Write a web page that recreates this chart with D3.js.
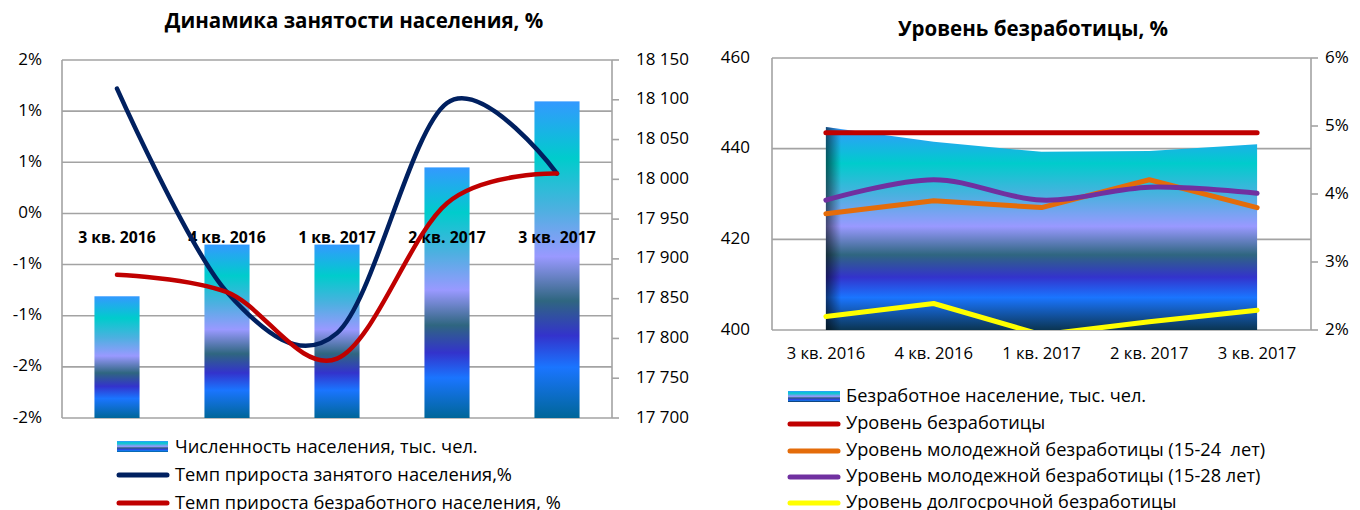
<!DOCTYPE html>
<html>
<head>
<meta charset="utf-8">
<script src="https://cdn.jsdelivr.net/npm/d3@7/dist/d3.min.js"></script>
<style>
  body { margin: 0; background: #fff; }
  svg { display: block; font-family: "Open Sans", "DejaVu Sans", sans-serif; }
</style>
</head>
<body>
<div id="chart"></div>
<script>
// data
const categories = ["3 кв. 2016", "4 кв. 2016", "1 кв. 2017", "2 кв. 2017", "3 кв. 2017"];

// left chart - "Динамика занятости населения, %"
const population = [17853, 17918, 17918, 18015, 18098];       // тыс. чел., right axis
const employedGrowth = [1.22, -0.77, -1.17, 1.08, 0.39];      // %, left axis
const unemployedGrowth = [-0.60, -0.77, -1.42, 0.10, 0.39];   // %, left axis
const leftTicks = [1.5, 1, 0.5, 0, -0.5, -1, -1.5, -2];
const leftTickLabels = ["2%", "1%", "1%", "0%", "-1%", "-1%", "-2%", "-2%"];
const popTicks = [18150, 18100, 18050, 18000, 17950, 17900, 17850, 17800, 17750, 17700];

// right chart - "Уровень безработицы, %"
const unemployed = [444.8, 441.5, 439.3, 439.5, 441.0];       // тыс. чел., left axis
const rateTotal = [4.9, 4.9, 4.9, 4.9, 4.9];
const rateYouth24 = [3.71, 3.90, 3.80, 4.21, 3.80];
const rateYouth28 = [3.91, 4.21, 3.91, 4.10, 4.01];
const rateLongTerm = [2.20, 2.39, 1.93, 2.12, 2.29];
const unemplTicks = [460, 440, 420, 400];
const rateTicks = [6, 5, 4, 3, 2];

const W = 1360, H = 510;
const gridColor = "#a3a3a3";
const fmtSpace = d3.formatLocale({ thousands: "\u00a0", grouping: [3], decimal: ",", currency: ["", ""] }).format(",");

const svg = d3.select("#chart").append("svg")
  .attr("width", W).attr("height", H);

const defs = svg.append("defs");

// the excel-ish "ocean" fill used for the bars and the area
const oceanStops = [
  [0, "#3399ff"], [0.18, "#00cccc"], [0.34, "#4cb0e0"], [0.49, "#9999ff"],
  [0.63, "#2f6680"], [0.74, "#3333cc"], [0.84, "#1a75ff"], [1, "#006699"]
];
function addGradient(id, stops, lastColor) {
  const g = defs.append("linearGradient").attr("id", id)
    .attr("x1", 0).attr("y1", 0).attr("x2", 0).attr("y2", 1);
  stops.forEach((s, i) => {
    g.append("stop").attr("offset", s[0])
      .attr("stop-color", (i == stops.length - 1 && lastColor) ? lastColor : s[1]);
  });
}
addGradient("ocean", oceanStops);
addGradient("oceanArea", oceanStops, "#0b3552");

const edge = defs.append("linearGradient").attr("id", "edgeShade")
  .attr("x1", 0).attr("y1", 0).attr("x2", 1).attr("y2", 0);
edge.append("stop").attr("offset", 0).attr("stop-color", "#000").attr("stop-opacity", 0.55);
edge.append("stop").attr("offset", 0.035).attr("stop-color", "#000").attr("stop-opacity", 0);

function text(g, x, y, s, opts) {
  opts = opts || {};
  return g.append("text")
    .attr("x", x).attr("y", y)
    .attr("text-anchor", opts.anchor || "start")
    .attr("dominant-baseline", "middle")
    .attr("font-size", opts.size || 17)
    .attr("font-weight", opts.bold ? "bold" : null)
    .attr("fill", "#000")
    .text(s);
}

/* ---------------- left chart ---------------- */
const L = { left: 62, right: 612, top: 60, bottom: 418 };
const gl = svg.append("g");

const xL = d3.scaleBand().domain(categories).range([L.left, L.right])
  .paddingInner(0.59).paddingOuter(0.295);
const cxL = d => xL(d) + xL.bandwidth() / 2;
const yPct = d3.scaleLinear().domain([-2, 1.5]).range([L.bottom, L.top]);
const yPop = d3.scaleLinear().domain([17700, 18150]).range([L.bottom, L.top]);

text(gl, 354, 23, "Динамика занятости населения, %", { anchor: "middle", bold: true, size: 20.5 });

gl.selectAll(".gridL").data(leftTicks).join("line")
  .attr("x1", L.left).attr("x2", L.right)
  .attr("y1", d => yPct(d)).attr("y2", d => yPct(d))
  .attr("stroke", gridColor).attr("stroke-width", 1.6);
gl.append("line").attr("x1", L.left).attr("x2", L.left).attr("y1", L.top).attr("y2", L.bottom)
  .attr("stroke", gridColor).attr("stroke-width", 1.6);
gl.append("line").attr("x1", L.right).attr("x2", L.right).attr("y1", L.top).attr("y2", L.bottom)
  .attr("stroke", gridColor).attr("stroke-width", 1.6);

leftTicks.forEach((t, i) => text(gl, 42, yPct(t), leftTickLabels[i], { anchor: "end", size: 17 }));
gl.selectAll(".tickR").data(popTicks).join("line")
  .attr("x1", L.right).attr("x2", L.right + 7)
  .attr("y1", d => yPop(d)).attr("y2", d => yPop(d))
  .attr("stroke", gridColor).attr("stroke-width", 1.6);
popTicks.forEach(t => text(gl, 636, yPop(t), fmtSpace(t), { size: 17 }));

gl.selectAll(".bar").data(population).join("rect")
  .attr("x", (d, i) => xL(categories[i]))
  .attr("width", xL.bandwidth())
  .attr("y", d => yPop(d))
  .attr("height", d => yPop(17700) - yPop(d))
  .attr("fill", "url(#ocean)");

categories.forEach(c => text(gl, cxL(c), yPct(0) + 25, c, { anchor: "middle", bold: true, size: 15.8 }));

const lineL = d3.line().x((d, i) => cxL(categories[i])).y(d => yPct(d)).curve(d3.curveCardinal);
gl.append("path").attr("d", lineL(employedGrowth))
  .attr("fill", "none").attr("stroke", "#002060").attr("stroke-width", 4.5).attr("stroke-linecap", "round");
gl.append("path").attr("d", lineL(unemployedGrowth))
  .attr("fill", "none").attr("stroke", "#c00000").attr("stroke-width", 4.5).attr("stroke-linecap", "round");

// legend
const lgL = [
  { type: "bar", label: "Численность населения, тыс. чел.", y: 447 },
  { type: "line", color: "#002060", label: "Темп прироста занятого населения,%", y: 475 },
  { type: "line", color: "#c00000", label: "Темп прироста безработного населения, %", y: 503 }
];
lgL.forEach(l => {
  if (l.type == "bar") {
    gl.append("rect").attr("x", 117).attr("y", l.y - 6).attr("width", 51).attr("height", 11).attr("fill", "url(#ocean)");
  } else {
    gl.append("line").attr("x1", 119).attr("x2", 167).attr("y1", l.y).attr("y2", l.y)
      .attr("stroke", l.color).attr("stroke-width", 5).attr("stroke-linecap", "round");
  }
  text(gl, 175, l.y + 1, l.label, { size: 18.3 });
});

/* ---------------- right chart ---------------- */
const R = { left: 772, right: 1311, top: 58, bottom: 330 };
const gr = svg.append("g");

const xR = d3.scaleBand().domain(categories).range([R.left, R.right]);
const cxR = d => xR(d) + xR.bandwidth() / 2;
const yUn = d3.scaleLinear().domain([400, 460]).range([R.bottom, R.top]);
const yRate = d3.scaleLinear().domain([2, 6]).range([R.bottom, R.top]);

text(gr, 1033, 31, "Уровень безработицы, %", { anchor: "middle", bold: true, size: 20.5 });

gr.selectAll(".gridR").data(unemplTicks).join("line")
  .attr("x1", R.left).attr("x2", R.right)
  .attr("y1", d => yUn(d)).attr("y2", d => yUn(d))
  .attr("stroke", gridColor).attr("stroke-width", 1.6);
gr.append("line").attr("x1", R.left).attr("x2", R.left).attr("y1", R.top).attr("y2", R.bottom)
  .attr("stroke", gridColor).attr("stroke-width", 1.6);
gr.append("line").attr("x1", R.right).attr("x2", R.right).attr("y1", R.top).attr("y2", R.bottom)
  .attr("stroke", gridColor).attr("stroke-width", 1.6);
gr.selectAll(".tickRR").data(rateTicks).join("line")
  .attr("x1", R.right).attr("x2", R.right + 7)
  .attr("y1", d => yRate(d)).attr("y2", d => yRate(d))
  .attr("stroke", gridColor).attr("stroke-width", 1.6);

unemplTicks.forEach(t => text(gr, 750, yUn(t), t, { anchor: "end", size: 17 }));
rateTicks.forEach(t => text(gr, 1325, yRate(t), t + "%", { size: 17 }));
categories.forEach(c => text(gr, cxR(c), 355, c, { anchor: "middle", size: 16.6 }));

defs.append("clipPath").attr("id", "plotR").append("rect")
  .attr("x", R.left).attr("y", R.top).attr("width", R.right - R.left).attr("height", R.bottom - R.top);

const area = d3.area().x((d, i) => cxR(categories[i])).y0(yUn(400)).y1(d => yUn(d));
gr.append("path").attr("d", area(unemployed)).attr("fill", "url(#oceanArea)");
gr.append("path").attr("d", area(unemployed)).attr("fill", "url(#edgeShade)");

const lineStraight = d3.line().x((d, i) => cxR(categories[i])).y(d => yRate(d));
const lineSmooth = d3.line().x((d, i) => cxR(categories[i])).y(d => yRate(d)).curve(d3.curveCardinal);
const rightSeries = [
  { data: rateTotal, color: "#c00000", gen: lineStraight, label: "Уровень безработицы" },
  { data: rateYouth24, color: "#e46c0a", gen: lineStraight, label: "Уровень молодежной безработицы (15-24\u00a0 лет)" },
  { data: rateYouth28, color: "#7030a0", gen: lineSmooth, label: "Уровень молодежной безработицы (15-28 лет)" },
  { data: rateLongTerm, color: "#ffff00", gen: lineStraight, label: "Уровень долгосрочной безработицы" }
];
const linesR = gr.append("g").attr("clip-path", "url(#plotR)");
rightSeries.forEach(s => {
  linesR.append("path").attr("d", s.gen(s.data))
    .attr("fill", "none").attr("stroke", s.color).attr("stroke-width", 5)
    .attr("stroke-linecap", "round").attr("stroke-linejoin", "round");
});

// legend
gr.append("rect").attr("x", 788).attr("y", 391).attr("width", 52).attr("height", 11).attr("fill", "url(#oceanArea)");
text(gr, 846, 397, "Безработное население, тыс. чел.", { size: 18.2 });
const lgY = [424, 451, 477, 503];
rightSeries.forEach((s, i) => {
  gr.append("line").attr("x1", 790).attr("x2", 838).attr("y1", lgY[i]).attr("y2", lgY[i])
    .attr("stroke", s.color).attr("stroke-width", 5).attr("stroke-linecap", "round");
  text(gr, 846, lgY[i], s.label, { size: 18.2 });
});
</script>
</body>
</html>
